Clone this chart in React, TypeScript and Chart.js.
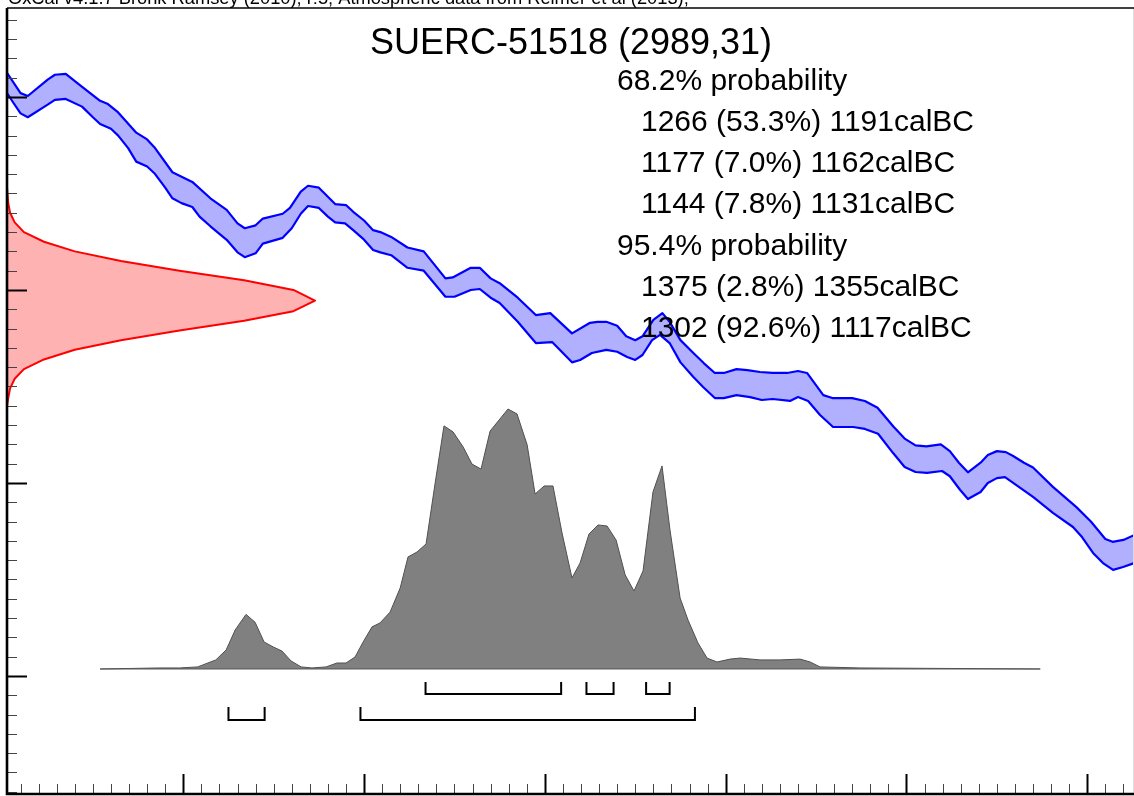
import React, { useEffect, useRef } from "react";
import { Chart, registerables } from "chart.js";

Chart.register(...registerables);

// ---- axis ranges (x: calendar years BC, reversed; y: radiocarbon years BP) ----
const X_LEFT_BC = 1497.5;
const X_RIGHT_BC = 874.7;
const Y_BOTTOM_BP = 2477.7;
const Y_TOP_BP = 3292.2;
const X_MINOR_STEP = 10;
const X_MAJOR_STEP = 100;
const Y_MINOR_STEP = 20;
const Y_MAJOR_STEP = 200;

// probability axis (calibrated distribution, peak = 1)
const PROB_MIN = -0.4808;
const PROB_MAX = 2.5423;
// radiocarbon date density axis (peak = 1)
const DENS_MAX = 3.656;

// ---- calibration curve (IntCal13), upper and lower 1-sigma edges ----
const upperBC = [1497.5, 1490, 1486, 1475, 1471, 1465, 1457, 1446, 1442, 1436, 1426, 1420, 1416, 1406, 1395, 1385, 1376, 1370, 1366, 1360, 1356, 1345, 1341, 1335, 1331, 1325, 1316, 1310, 1306, 1300, 1295, 1291, 1285, 1276, 1267, 1255, 1251, 1241, 1236, 1230, 1225, 1215, 1205, 1197, 1185, 1175, 1171, 1166, 1160, 1155, 1150, 1146, 1140, 1135, 1131, 1125, 1118, 1112, 1106, 1101, 1094, 1088, 1081, 1074, 1066, 1060, 1055, 1046, 1041, 1030, 1023, 1016, 1007, 1001, 995, 989, 981, 976, 971, 966, 959, 955, 950, 945, 941, 935, 930, 919, 906, 898, 890, 886, 880, 874];
const upperBP = [3225, 3204, 3201, 3218, 3223, 3224, 3212, 3196, 3193, 3184, 3163, 3156, 3148, 3122, 3112, 3095, 3083, 3069, 3064, 3067, 3074, 3079, 3085, 3102, 3108, 3106, 3089, 3088, 3081, 3072, 3062, 3060, 3055, 3044, 3040, 3012, 3013, 3023, 3023, 3012, 3007, 2992, 2974, 2976, 2955, 2966, 2967, 2967, 2963, 2952, 2948, 2952, 2969, 2976, 2967, 2948, 2935, 2924, 2914, 2914, 2918, 2917, 2915, 2914, 2914, 2916, 2914, 2891, 2888, 2888, 2885, 2878, 2858, 2846, 2839, 2838, 2840, 2833, 2821, 2811, 2821, 2829, 2833, 2832, 2828, 2821, 2816, 2796, 2775, 2760, 2742, 2739, 2741, 2746];
const lowerBC = [1497.5, 1494, 1490, 1486, 1475, 1471, 1465, 1456, 1450, 1446, 1440, 1436, 1430.5, 1426, 1420, 1416, 1410, 1406, 1401, 1395, 1391, 1385, 1376, 1370, 1366, 1360, 1356, 1345, 1340, 1335, 1331, 1325, 1320, 1316, 1310.5, 1306, 1300.5, 1295, 1291, 1285, 1276, 1267, 1255, 1250, 1241, 1236, 1230, 1225, 1215, 1205, 1196, 1185, 1180.5, 1174, 1166, 1160, 1154.5, 1150, 1146, 1140.7, 1136.3, 1131, 1125, 1118, 1112.5, 1106, 1101, 1094, 1086.5, 1080, 1074, 1064.4, 1060, 1054.4, 1047.8, 1040.6, 1029.5, 1023, 1015.7, 1007.4, 1001, 995, 988.6, 980.3, 976, 970.4, 966, 959, 955, 950, 945.5, 930, 919, 907.9, 902.9, 896.8, 891.3, 885.7, 880.2, 874];
const lowerBP = [3204, 3194, 3183, 3179, 3192, 3197, 3198, 3190, 3179, 3172, 3167, 3160, 3147, 3133, 3128, 3121, 3106, 3095, 3090, 3086, 3076, 3066, 3052, 3039, 3034, 3038, 3048, 3054, 3064, 3079, 3087, 3085, 3076, 3070, 3069, 3062, 3053, 3041.5, 3039, 3036, 3023, 3020, 2993, 2993, 3000, 3001, 2992, 2986.5, 2967, 2945, 2946, 2925, 2927.5, 2934.7, 2938, 2936, 2930.6, 2927.5, 2932.6, 2948, 2953.4, 2945, 2925, 2910, 2899.5, 2888, 2888, 2891, 2889, 2886, 2887, 2885, 2889, 2885, 2870.5, 2858, 2858, 2856, 2851, 2831, 2816.6, 2811.4, 2810.4, 2812.4, 2807, 2793, 2783.4, 2790.7, 2800, 2805, 2806, 2785.5, 2769, 2754.4, 2744, 2727.5, 2717, 2710, 2713, 2717];

// ---- radiocarbon date 2989 +/- 31 BP (red) ----
const redBP = [3106, 3090, 3080, 3070, 3060, 3050, 3040, 3030, 3020, 3010, 3000, 2989, 2978, 2968, 2958, 2948, 2938, 2928, 2918, 2908, 2898, 2888, 2880];
const redDensity = [0, 0.004, 0.01, 0.025, 0.055, 0.12, 0.22, 0.37, 0.56, 0.77, 0.93, 1, 0.93, 0.77, 0.56, 0.37, 0.22, 0.12, 0.055, 0.025, 0.01, 0.004, 0];

// ---- calibrated probability distribution (grey) ----
const probBC = [1446, 1413, 1402, 1392, 1382, 1376.3, 1371.3, 1365.3, 1360.3, 1355.3, 1350.3, 1345.4, 1340.4, 1334.8, 1328.8, 1321, 1315, 1310, 1305, 1300.5, 1295.6, 1291.2, 1285.6, 1280, 1275.7, 1270.7, 1265.7, 1260.7, 1255.8, 1250.8, 1245.2, 1240.3, 1235.3, 1230.3, 1220.4, 1215.4, 1209.8, 1205.4, 1200.4, 1195.5, 1190.5, 1185, 1180.5, 1175.6, 1170.6, 1165.6, 1160.6, 1155.6, 1150.7, 1145.7, 1140.2, 1135.2, 1130.8, 1125.2, 1120.8, 1115.3, 1110.3, 1104.8, 1097.6, 1092, 1081, 1070, 1058.8, 1053.3, 1047.8, 1025.7, 926];
const probValue = [0, 0.004, 0.004, 0.008, 0.035, 0.073, 0.15, 0.21, 0.18, 0.104, 0.085, 0.069, 0.031, 0.008, 0.004, 0.008, 0.023, 0.023, 0.046, 0.104, 0.162, 0.177, 0.219, 0.312, 0.431, 0.45, 0.481, 0.715, 0.935, 0.912, 0.854, 0.788, 0.769, 0.915, 1.0, 0.981, 0.862, 0.673, 0.704, 0.704, 0.523, 0.35, 0.408, 0.519, 0.554, 0.55, 0.496, 0.362, 0.3, 0.377, 0.681, 0.781, 0.535, 0.273, 0.188, 0.1, 0.042, 0.027, 0.038, 0.042, 0.035, 0.035, 0.038, 0.027, 0.008, 0.004, 0];

// ---- highest posterior density ranges (calBC) ----
const ranges68 = [[1266, 1191], [1177, 1162], [1144, 1131]];
const ranges95 = [[1375, 1355], [1302, 1117]];
const LEVEL68_TOP = -0.05;
const LEVEL68_BASE = -0.096;
const LEVEL95_TOP = -0.146;
const LEVEL95_BASE = -0.196;

// ---- texts ----
const headerText = "OxCal v4.1.7 Bronk Ramsey (2010); r:5; Atmospheric data from Reimer et al (2013);";
const titleText = "SUERC-51518 (2989,31)";
const summaryLines = [
  "68.2% probability",
  "1266 (53.3%) 1191calBC",
  "1177 (7.0%) 1162calBC",
  "1144 (7.8%) 1131calBC",
  "95.4% probability",
  "1375 (2.8%) 1355calBC",
  "1302 (92.6%) 1117calBC",
];
const summaryIndent = [0, 1, 1, 1, 0, 1, 1];

const FONT = '"Liberation Sans", Arial, Helvetica, sans-serif';

const oxcalDecor = {
  id: "oxcalDecor",
  afterDatasetsDraw(chart: any) {
    const { ctx, chartArea: a } = chart;
    const xs = chart.scales.x;
    const ys = chart.scales.y;
    ctx.save();

    // right frame edge (light)
    ctx.strokeStyle = "#dcdcdc";
    ctx.lineWidth = 1;
    ctx.beginPath();
    ctx.moveTo(a.right + 0.5, a.top);
    ctx.lineTo(a.right + 0.5, a.bottom);
    ctx.stroke();

    // top frame edge
    ctx.strokeStyle = "#000";
    ctx.lineWidth = 1.6;
    ctx.beginPath();
    ctx.moveTo(a.left, a.top);
    ctx.lineTo(chart.width, a.top);
    ctx.stroke();

    // x ticks (inward)
    const xLo = Math.min(xs.min, xs.max);
    const xHi = Math.max(xs.min, xs.max);
    for (let v = Math.ceil(xLo / X_MINOR_STEP) * X_MINOR_STEP; v <= xHi; v += X_MINOR_STEP) {
      const px = Math.round(xs.getPixelForValue(v)) + 0.5;
      const major = v % X_MAJOR_STEP === 0;
      ctx.strokeStyle = major ? "#000" : "#444";
      ctx.lineWidth = major ? 2 : 1;
      ctx.beginPath();
      ctx.moveTo(px, a.bottom);
      ctx.lineTo(px, a.bottom - (major ? 20 : 10));
      ctx.stroke();
    }
    // y ticks (inward)
    for (let v = Math.ceil(ys.min / Y_MINOR_STEP) * Y_MINOR_STEP; v <= ys.max; v += Y_MINOR_STEP) {
      const py = Math.round(ys.getPixelForValue(v)) + 0.5;
      const major = v % Y_MAJOR_STEP === 0;
      ctx.strokeStyle = major ? "#000" : "#444";
      ctx.lineWidth = major ? 2 : 1;
      ctx.beginPath();
      ctx.moveTo(a.left, py);
      ctx.lineTo(a.left + (major ? 20 : 10), py);
      ctx.stroke();
    }

    // axes lines
    ctx.strokeStyle = "#000";
    ctx.lineWidth = 2.6;
    ctx.beginPath();
    ctx.moveTo(a.left, a.top);
    ctx.lineTo(a.left, a.bottom);
    ctx.lineTo(a.right + 1, a.bottom);
    ctx.stroke();

    // texts
    ctx.fillStyle = "#000";
    ctx.textBaseline = "alphabetic";
    ctx.textAlign = "left";
    ctx.font = `18.3px ${FONT}`;
    ctx.fillText(headerText, 8, 4);

    ctx.textAlign = "center";
    ctx.font = `36px ${FONT}`;
    ctx.fillText(titleText, 571, 53.5);

    ctx.textAlign = "left";
    ctx.font = `30px ${FONT}`;
    summaryLines.forEach((t, i) => {
      ctx.fillText(t, summaryIndent[i] ? 641 : 617, 89.5 + i * 41.3);
    });

    ctx.restore();
  },
};

function bracket(r: number[], top: number, base: number) {
  return [
    { x: r[0], y: top },
    { x: r[0], y: base },
    { x: r[1], y: base },
    { x: r[1], y: top },
  ];
}

export default function App() {
  const ref = useRef<HTMLCanvasElement | null>(null);

  useEffect(() => {
    if (!ref.current) return;
    const upperPts = upperBC.map((x, i) => ({ x, y: upperBP[i] }));
    const lowerPts = lowerBC.map((x, i) => ({ x, y: lowerBP[i] }));
    const bandPts = [...upperPts, ...[...lowerPts].reverse()];
    const redPts = redBP.map((y, i) => ({ x: redDensity[i], y }));
    const probPts = probBC.map((x, i) => ({ x, y: probValue[i] }));

    const bracketSets: any[] = [];
    ranges68.forEach((r) =>
      bracketSets.push({
        data: bracket(r, LEVEL68_TOP, LEVEL68_BASE),
        yAxisID: "y2",
        borderColor: "#000",
        borderWidth: 2,
        borderJoinStyle: "miter",
        borderCapStyle: "butt",
        pointRadius: 0,
        fill: false,
      })
    );
    ranges95.forEach((r) =>
      bracketSets.push({
        data: bracket(r, LEVEL95_TOP, LEVEL95_BASE),
        yAxisID: "y2",
        borderColor: "#000",
        borderWidth: 2,
        borderJoinStyle: "miter",
        borderCapStyle: "butt",
        pointRadius: 0,
        fill: false,
      })
    );

    const chart = new Chart(ref.current, {
      type: "line",
      data: {
        datasets: [
          ...bracketSets,
          {
            data: upperPts,
            borderColor: "#0000ff",
            borderWidth: 2.2,
            borderJoinStyle: "round",
            pointRadius: 0,
            fill: false,
          },
          {
            data: lowerPts,
            borderColor: "#0000ff",
            borderWidth: 2.2,
            borderJoinStyle: "round",
            pointRadius: 0,
            fill: false,
          },
          {
            data: bandPts,
            borderWidth: 0,
            borderColor: "rgba(0,0,0,0)",
            backgroundColor: "rgb(176,176,255)",
            pointRadius: 0,
            fill: "shape",
          },
          {
            data: redPts,
            xAxisID: "xr",
            borderColor: "#ff0000",
            borderWidth: 2,
            borderJoinStyle: "round",
            backgroundColor: "rgb(255,178,178)",
            pointRadius: 0,
            fill: "shape",
          },
          {
            data: [
              { x: probBC[0], y: 0 },
              { x: probBC[probBC.length - 1], y: 0 },
            ],
            yAxisID: "y2",
            borderColor: "#555",
            borderWidth: 1,
            pointRadius: 0,
            fill: false,
          },
          {
            data: probPts,
            yAxisID: "y2",
            borderColor: "#505050",
            borderWidth: 1,
            backgroundColor: "#808080",
            pointRadius: 0,
            fill: "origin",
          },
        ],
      },
      options: {
        responsive: false,
        animation: false,
        events: [],
        layout: { padding: { left: 7, top: 8, right: 1, bottom: 2 } },
        plugins: {
          legend: { display: false },
          tooltip: { enabled: false },
          title: { display: false },
        },
        elements: { line: { tension: 0 }, point: { radius: 0 } },
        scales: {
          x: { type: "linear", display: false, reverse: true, min: X_RIGHT_BC, max: X_LEFT_BC },
          xr: { type: "linear", axis: "x", display: false, min: 0, max: DENS_MAX },
          y: { type: "linear", display: false, min: Y_BOTTOM_BP, max: Y_TOP_BP },
          y2: { type: "linear", axis: "y", display: false, min: PROB_MIN, max: PROB_MAX },
        },
      } as any,
      plugins: [oxcalDecor],
    });
    return () => chart.destroy();
  }, []);

  return (
    <div style={{ position: "fixed", left: 0, top: 0, width: 1134, height: 796, background: "#fff" }}>
      <canvas ref={ref} width={1134} height={796} style={{ display: "block" }} />
    </div>
  );
}
